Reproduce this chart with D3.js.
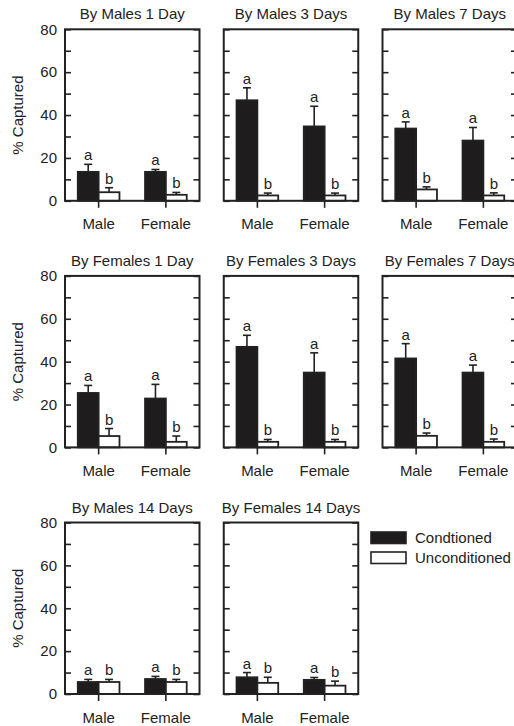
<!DOCTYPE html>
<html>
<head>
<meta charset="utf-8">
<script src="https://cdn.jsdelivr.net/npm/d3@7"></script>
<style>
  html, body { margin: 0; padding: 0; background: #fff; }
  svg { display: block; font-family: "Liberation Sans", Arial, sans-serif; }
  .tick line { stroke: #222; stroke-width: 1.6; }
  .tick text { fill: #222; font-size: 15px; }
  .domain { display: none; }
</style>
</head>
<body>
<svg id="chart" width="514" height="726"></svg>
<script>
// ---------------------------------------------------------------------------
// DATA
// ---------------------------------------------------------------------------

const panelTitles = [
  'By Males 1 Day', 'By Males 3 Days', 'By Males 7 Days',
  'By Females 1 Day', 'By Females 3 Days', 'By Females 7 Days',
  'By Males 14 Days', 'By Females 14 Days'
];

const groups = ['Male', 'Female'];
const seriesNames = ['Condtioned', 'Unconditioned'];
const seriesLetters = ['a', 'b'];

// [Male, Female] per panel
const conditioned = [
  [13.5, 13.5], [46.9, 34.7], [33.7, 28.1],
  [25.4, 22.8], [46.9, 34.9], [41.5, 34.9],
  [5.6, 7.0], [7.8, 6.6]
];
const conditionedErr = [
  [17.0, 14.6], [52.7, 44.1], [36.8, 34.2],
  [28.9, 29.4], [52.3, 44.1], [48.4, 38.4],
  [6.8, 8.2], [10.0, 7.7]
];
const unconditioned = [
  [4.0, 2.8], [2.5, 2.5], [5.3, 2.5],
  [5.3, 2.6], [2.6, 2.6], [5.4, 2.6],
  [5.6, 5.6], [5.2, 3.9]
];
const unconditionedErr = [
  [6.1, 3.9], [3.6, 3.6], [6.5, 3.7],
  [8.8, 5.3], [3.7, 3.7], [6.7, 3.9],
  [6.8, 6.8], [7.8, 6.0]
];

const yTickValues = [0, 10, 20, 30, 40, 50, 60, 70, 80];
const yLabelValues = [0, 20, 40, 60, 80];

// ---------------------------------------------------------------------------
// LAYOUT
// ---------------------------------------------------------------------------

const PANEL_W = 134.5;
const PANEL_H = 171.5;
const LEFT0 = 65;
const TOP0 = 29.3;
const COL_STEP = 158.75;
const ROW_STEP = 246.6;
const INK = '#222';
const BAR_FILL = '#1e1c1d';

const svg = d3.select('#chart');

const x0 = d3.scaleBand().domain(groups).range([0, PANEL_W]).padding(0);
const barW = x0.bandwidth() * 0.31;
const y = d3.scaleLinear().domain([0, 80]).range([PANEL_H, 0]);

function drawPanel(i) {
  const col = i % 3;
  const row = Math.floor(i / 3);
  const left = LEFT0 + col * COL_STEP;
  const top = TOP0 + row * ROW_STEP;

  const g = svg.append('g').attr('transform', `translate(${left},${top})`);

  // title
  g.append('text')
    .attr('x', PANEL_W / 2)
    .attr('y', -10)
    .attr('text-anchor', 'middle')
    .attr('fill', INK)
    .attr('font-size', '15px')
    .text(panelTitles[i]);

  // left ticks (inward), labels only on first column
  g.append('g')
    .call(d3.axisLeft(y)
      .tickValues(yTickValues)
      .tickSizeInner(-6)
      .tickSizeOuter(0)
      .tickPadding(8)
      .tickFormat(d => (col === 0 && yLabelValues.includes(d)) ? d : ''));

  // right ticks (inward)
  g.append('g')
    .attr('transform', `translate(${PANEL_W},0)`)
    .call(d3.axisRight(y)
      .tickValues(yTickValues)
      .tickSizeInner(-6)
      .tickSizeOuter(0)
      .tickFormat(''));

  // bottom ticks (outward) + category labels
  g.append('g')
    .attr('transform', `translate(0,${PANEL_H})`)
    .call(d3.axisBottom(x0).tickSizeInner(7).tickSizeOuter(0).tickPadding(11));

  // y label
  if (col === 0) {
    g.append('text')
      .attr('transform', `translate(${22.5 - left},${PANEL_H / 2}) rotate(-90)`)
      .attr('text-anchor', 'middle')
      .attr('fill', INK)
      .attr('font-size', '15px')
      .text('% Captured');
  }

  const series = [
    { vals: conditioned[i], errs: conditionedErr[i], fill: BAR_FILL },
    { vals: unconditioned[i], errs: unconditionedErr[i], fill: '#fff' }
  ];

  series.forEach((s, si) => {
    groups.forEach((grp, gi) => {
      const cx = x0(grp) + x0.bandwidth() / 2;
      const bx = cx + (si - 1) * barW;
      const mid = bx + barW / 2;
      const v = s.vals[gi];
      const e = s.errs[gi];

      // error bar (upper only)
      g.append('line')
        .attr('x1', mid).attr('x2', mid)
        .attr('y1', y(v)).attr('y2', y(e))
        .attr('stroke', INK).attr('stroke-width', 1.6);
      g.append('line')
        .attr('x1', mid - 4).attr('x2', mid + 4)
        .attr('y1', y(e)).attr('y2', y(e))
        .attr('stroke', INK).attr('stroke-width', 1.6);

      g.append('rect')
        .attr('x', bx)
        .attr('y', y(v))
        .attr('width', barW)
        .attr('height', y(0) - y(v))
        .attr('fill', s.fill)
        .attr('stroke', INK)
        .attr('stroke-width', 1.8);

      g.append('text')
        .attr('x', mid)
        .attr('y', y(e) - 4)
        .attr('text-anchor', 'middle')
        .attr('fill', INK)
        .attr('font-size', '15px')
        .text(seriesLetters[si]);
    });
  });

  // frame
  g.append('rect')
    .attr('width', PANEL_W)
    .attr('height', PANEL_H)
    .attr('fill', 'none')
    .attr('stroke', INK)
    .attr('stroke-width', 2);
}

panelTitles.forEach((_, i) => drawPanel(i));

// ---------------------------------------------------------------------------
// LEGEND
// ---------------------------------------------------------------------------

const legend = svg.append('g').attr('transform', 'translate(371,532)');
seriesNames.forEach((name, i) => {
  legend.append('rect')
    .attr('x', 0)
    .attr('y', i * 20)
    .attr('width', 35)
    .attr('height', 11.5)
    .attr('fill', i === 0 ? BAR_FILL : '#fff')
    .attr('stroke', INK)
    .attr('stroke-width', 1.6);
  legend.append('text')
    .attr('x', 44)
    .attr('y', i * 20 + 11)
    .attr('fill', INK)
    .attr('font-size', '15px')
    .text(name);
});
</script>
</body>
</html>
